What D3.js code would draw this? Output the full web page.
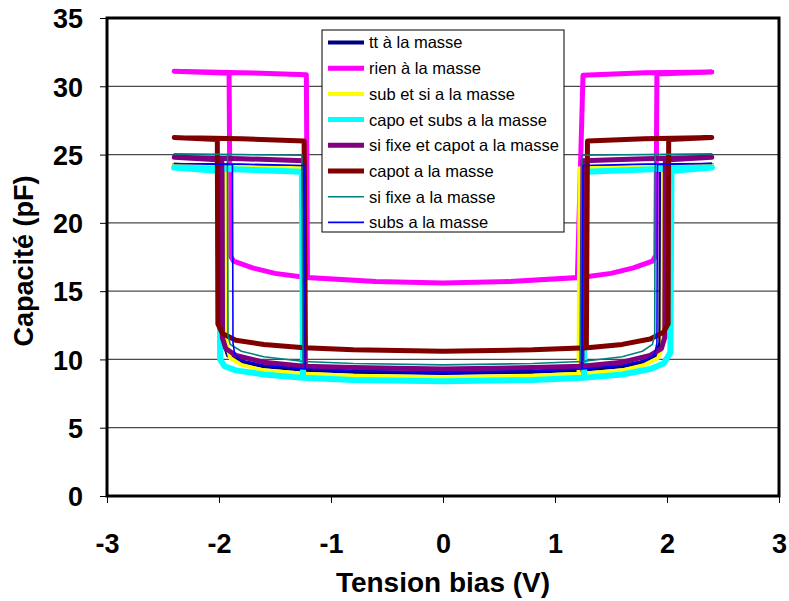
<!DOCTYPE html>
<html>
<head>
<meta charset="utf-8">
<script src="https://cdn.jsdelivr.net/npm/d3@7/dist/d3.min.js"></script>
<style>
  html, body { margin: 0; padding: 0; background: #fff; }
  svg { display: block; font-family: "Liberation Sans", Arial, sans-serif; }
</style>
</head>
<body>
<svg id="chart" width="789" height="601"></svg>
<script>
// ---------- data (voltage V, capacitance pF), each series is a closed hysteresis loop ----------
const xTicks = [-3, -2, -1, 0, 1, 2, 3];
const yTicks = [0, 5, 10, 15, 20, 25, 30, 35];

const ttMasse = [
  [-2.4, 24.25], [-1.8, 24.15], [-1.24, 24.05], [-1.23, 9.3], [-0.8, 9.1], [0, 9.0], [0.8, 9.1],
  [1.24, 9.25], [1.6, 9.5], [1.8, 9.85], [1.9, 10.3], [1.94, 11.2], [1.945, 24.1], [2.4, 24.25],
  [1.8, 24.15], [1.23, 24.05], [1.22, 9.3], [0.8, 9.1], [0, 9.0], [-0.8, 9.1], [-1.24, 9.25],
  [-1.6, 9.5], [-1.8, 9.85], [-1.92, 10.3], [-1.955, 11.2], [-1.96, 24.1], [-2.4, 24.25]
];
const rienMasse = [
  [-2.4, 31.1], [-1.8, 31.0], [-1.22, 30.85], [-1.21, 16.0], [-0.6, 15.7], [0, 15.6], [0.6, 15.7],
  [1.23, 16.0], [1.5, 16.3], [1.7, 16.7], [1.87, 17.2], [1.9, 17.6], [1.91, 30.9], [2.4, 31.05],
  [1.8, 31.0], [1.25, 30.8], [1.2, 16.0], [0.6, 15.7], [0, 15.6], [-0.6, 15.7], [-1.22, 16.0],
  [-1.5, 16.3], [-1.7, 16.7], [-1.87, 17.2], [-1.9, 17.6], [-1.91, 30.95], [-2.4, 31.1]
];
const subSiMasse = [
  [-2.4, 24.25], [-1.8, 24.1], [-1.25, 24.0], [-1.24, 8.95], [-0.8, 8.8], [0, 8.7], [0.8, 8.8],
  [1.24, 8.95], [1.6, 9.2], [1.8, 9.6], [1.92, 10.1], [1.96, 11.0], [1.965, 24.05], [2.4, 24.25],
  [1.8, 24.1], [1.22, 24.0], [1.21, 8.95], [0.8, 8.8], [0, 8.7], [-0.8, 8.8], [-1.24, 8.95],
  [-1.6, 9.2], [-1.8, 9.6], [-1.9, 10.1], [-1.93, 11.0], [-1.935, 24.05], [-2.4, 24.25]
];
const capoSubsMasse = [
  [-2.4, 24.05], [-1.8, 23.9], [-1.26, 23.75], [-1.25, 8.65], [-0.8, 8.5], [0, 8.4], [0.8, 8.5],
  [1.25, 8.65], [1.6, 8.9], [1.85, 9.3], [1.97, 9.7], [2.03, 10.5], [2.04, 23.8], [2.4, 24.05],
  [1.8, 23.9], [1.27, 23.75], [1.26, 8.65], [0.8, 8.5], [0, 8.4], [-0.8, 8.5], [-1.25, 8.65],
  [-1.6, 8.9], [-1.85, 9.2], [-1.95, 9.5], [-1.99, 10.0], [-1.995, 23.8], [-2.4, 24.05]
];
const siFixeCapotMasse = [
  [-2.4, 24.8], [-1.8, 24.7], [-1.24, 24.55], [-1.23, 9.5], [-0.8, 9.4], [0, 9.3], [0.8, 9.4],
  [1.24, 9.5], [1.6, 9.8], [1.85, 10.3], [1.95, 10.8], [1.98, 11.6], [1.985, 24.6], [2.4, 24.8],
  [1.8, 24.7], [1.25, 24.55], [1.24, 9.5], [0.8, 9.4], [0, 9.3], [-0.8, 9.4], [-1.24, 9.5],
  [-1.6, 9.8], [-1.85, 10.3], [-1.94, 10.8], [-1.97, 11.6], [-1.975, 24.6], [-2.4, 24.8]
];
const capotMasse = [
  [-2.4, 26.25], [-1.8, 26.15], [-1.24, 26.0], [-1.23, 10.85], [-0.8, 10.7], [0, 10.6], [0.8, 10.7],
  [1.29, 10.85], [1.6, 11.1], [1.85, 11.5], [1.97, 12.0], [2.01, 12.6], [2.015, 26.1], [2.4, 26.25],
  [1.8, 26.15], [1.29, 26.0], [1.28, 10.85], [0.8, 10.7], [0, 10.6], [-0.8, 10.7], [-1.24, 10.85],
  [-1.6, 11.1], [-1.85, 11.4], [-1.97, 11.9], [-2.01, 12.6], [-2.015, 26.1], [-2.4, 26.25]
];
const siFixeMasse = [
  [-2.4, 25.05], [-1.8, 25.0], [-1.26, 24.95], [-1.25, 9.85], [-0.8, 9.7], [0, 9.6], [0.8, 9.7],
  [1.24, 9.85], [1.6, 10.2], [1.78, 10.6], [1.87, 11.1], [1.89, 11.8], [1.895, 25.0], [2.4, 25.05],
  [1.8, 25.0], [1.24, 24.95], [1.23, 9.85], [0.8, 9.7], [0, 9.6], [-0.8, 9.7], [-1.24, 9.85],
  [-1.6, 10.2], [-1.8, 10.6], [-1.9, 11.1], [-1.92, 11.8], [-1.925, 25.0], [-2.4, 25.05]
];
const subsMasse = [
  [-2.4, 24.35], [-1.8, 24.3], [-1.24, 24.2], [-1.23, 9.3], [-0.8, 9.15], [0, 9.05], [0.8, 9.15],
  [1.25, 9.3], [1.6, 9.55], [1.8, 9.9], [1.89, 10.4], [1.91, 11.2], [1.915, 24.25], [2.4, 24.35],
  [1.8, 24.3], [1.25, 24.2], [1.24, 9.3], [0.8, 9.15], [0, 9.05], [-0.8, 9.15], [-1.24, 9.3],
  [-1.6, 9.55], [-1.8, 9.9], [-1.86, 10.4], [-1.875, 11.2], [-1.88, 24.25], [-2.4, 24.35]
];

const seriesNames = [
  "tt à la masse", "rien à la masse", "sub et si a la masse", "capo et subs a la masse",
  "si fixe et capot a la masse", "capot a la masse", "si fixe a la masse", "subs a la masse"
];
const seriesData = [ttMasse, rienMasse, subSiMasse, capoSubsMasse, siFixeCapotMasse, capotMasse, siFixeMasse, subsMasse];

// ---------- styles ----------
const seriesColors = ["#000080", "#FF00FF", "#FFFF00", "#00FFFF", "#800080", "#800000", "#008080", "#0000FF"];
const seriesWidths = [4, 5, 4, 6, 5, 5, 1.6, 1.6];

const svg = d3.select("#chart");
const W = 789, H = 601;
const plot = { left: 107, right: 779, top: 18, bottom: 496 };

svg.append("rect").attr("width", W).attr("height", H).attr("fill", "#fff");

const x = d3.scaleLinear().domain([-3, 3]).range([plot.left, plot.right]);
const y = d3.scaleLinear().domain([0, 35]).range([plot.bottom, plot.top]);

// gridlines
svg.append("g")
  .selectAll("line")
  .data(yTicks.filter(t => t > 0 && t < 35))
  .join("line")
  .attr("x1", plot.left).attr("x2", plot.right)
  .attr("y1", d => y(d)).attr("y2", d => y(d))
  .attr("stroke", "#4a4a4a").attr("stroke-width", 1.2);

// axes
const fmt = d => String(d);
const yAxis = d3.axisLeft(y).tickValues(yTicks).tickSize(7).tickPadding(17).tickFormat(fmt);
const xAxis = d3.axisBottom(x).tickValues(xTicks).tickSize(7).tickPadding(8).tickFormat(fmt);

const gy = svg.append("g").attr("transform", `translate(${plot.left},0)`).call(yAxis);
const gx = svg.append("g").attr("transform", `translate(0,${plot.bottom})`).call(xAxis);
[gy, gx].forEach(g => {
  g.select(".domain").remove();
  g.selectAll(".tick line").attr("stroke", "#000").attr("stroke-width", 1);
  g.selectAll(".tick text")
    .attr("fill", "#000")
    .attr("font-family", "'Liberation Sans', Arial, sans-serif")
    .attr("font-size", 27)
    .attr("font-weight", "bold");
});
gy.selectAll(".tick text").attr("dy", "0.36em");
gx.selectAll(".tick text").attr("y", 57).attr("dy", 0);

// series
const line = d3.line().x(d => x(d[0])).y(d => y(d[1])).curve(d3.curveLinear);
const gs = svg.append("g");
seriesData.forEach((data, i) => {
  gs.append("path")
    .attr("d", line(data))
    .attr("fill", "none")
    .attr("stroke", seriesColors[i])
    .attr("stroke-width", seriesWidths[i])
    .attr("stroke-linejoin", "round")
    .attr("stroke-linecap", "round");
});

// plot frame
svg.append("rect")
  .attr("x", plot.left).attr("y", plot.top)
  .attr("width", plot.right - plot.left).attr("height", plot.bottom - plot.top)
  .attr("fill", "none").attr("stroke", "#000").attr("stroke-width", 3);

// axis titles
svg.append("text")
  .attr("x", x(0)).attr("y", 592)
  .attr("text-anchor", "middle")
  .attr("font-size", 28).attr("font-weight", "bold")
  .text("Tension bias (V)");

svg.append("text")
  .attr("transform", `translate(33,261) rotate(-90)`)
  .attr("text-anchor", "middle")
  .attr("font-size", 27).attr("font-weight", "bold")
  .text("Capacité (pF)");

// legend
const leg = svg.append("g").attr("transform", "translate(322,30)");
leg.append("rect")
  .attr("x", 0).attr("y", 0).attr("width", 242).attr("height", 202)
  .attr("fill", "#fff").attr("stroke", "#000").attr("stroke-width", 1);
seriesNames.forEach((name, i) => {
  const yy = 12.5 + i * 25.7;
  leg.append("line")
    .attr("x1", 6).attr("x2", 42).attr("y1", yy).attr("y2", yy)
    .attr("stroke", seriesColors[i])
    .attr("stroke-width", Math.min(seriesWidths[i], 5));
  leg.append("text")
    .attr("x", 47).attr("y", yy).attr("dy", "0.36em")
    .attr("font-size", 16.5)
    .attr("fill", "#000")
    .text(name);
});
</script>
</body>
</html>
